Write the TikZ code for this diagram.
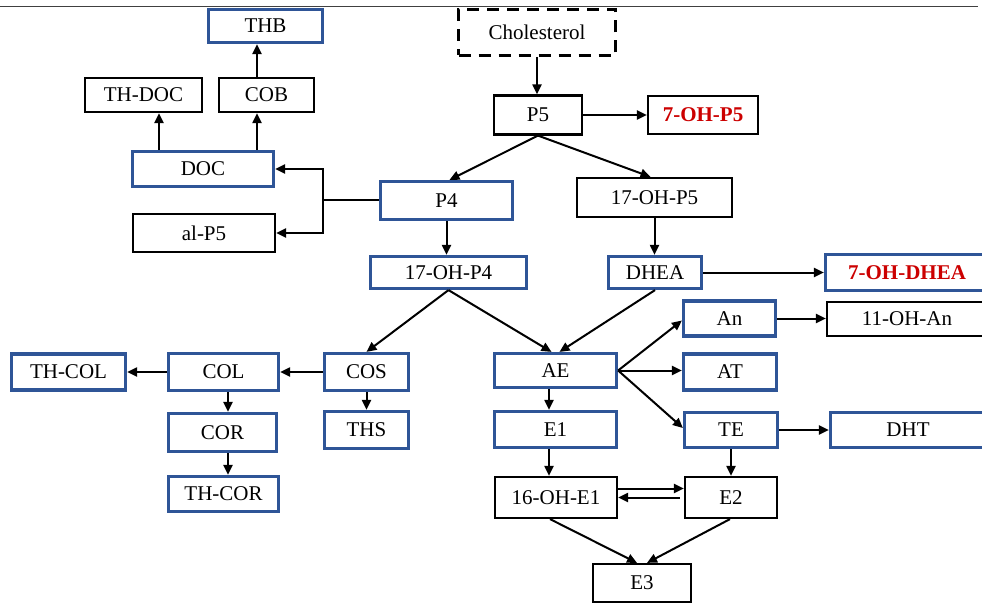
\documentclass[tikz,border=0pt]{standalone}
\usepackage{fontspec}
\setmainfont{Liberation Serif}
\usetikzlibrary{arrows.meta}
\definecolor{boxblue}{RGB}{47,85,151}
\definecolor{txtred}{RGB}{204,0,0}
\begin{document}
\begin{tikzpicture}[x=1pt,y=-1pt,
 base/.style={rectangle, inner sep=0pt, font=\fontsize{21}{25}\selectfont, fill=white},
 bbox/.style={base, draw=boxblue, line width=3.2pt},
 kbox/.style={base, draw=black, line width=2.2pt},
 dbox/.style={base, draw=black, line width=2.8pt, dash pattern=on 12pt off 8pt},
 redtxt/.style={text=txtred, font=\fontsize{21}{25}\selectfont\bfseries},
 arr/.style={-{Triangle[length=10pt,width=9pt]}, line width=2pt},
 ln/.style={line width=2pt}]
\useasboundingbox (0,0) rectangle (982,604);
\clip (0,0) rectangle (982,604);
\draw[line width=1.3pt, black!75] (0,6.5) -- (978,6.5);

\node[bbox, minimum width=114pt, minimum height=33pt] (THB) at (265.5,26) {THB};
\node[kbox, minimum width=117pt, minimum height=34pt] (THDOC) at (143.5,95) {TH-DOC};
\node[kbox, minimum width=95pt, minimum height=34pt] (COB) at (266.5,95) {COB};
\node[bbox, minimum width=141pt, minimum height=35pt] (DOC) at (203,169) {DOC};
\node[kbox, minimum width=142pt, minimum height=38pt] (alP5) at (204,233) {al-P5};
\node[dbox, minimum width=157pt, minimum height=46pt] (CHOL) at (537,32.5) {Cholesterol};
\node[kbox, minimum width=88pt, minimum height=39pt] (P5) at (538,115) {P5};
\node[kbox, redtxt, minimum width=110pt, minimum height=38pt] (OHP5) at (703,115) {7-OH-P5};
\node[bbox, minimum width=132pt, minimum height=38pt] (P4) at (446.5,200.5) {P4};
\node[kbox, minimum width=155pt, minimum height=39pt] (OHP5b) at (654.5,197.5) {17-OH-P5};
\node[bbox, minimum width=156pt, minimum height=32pt] (OHP4) at (448.5,272.5) {17-OH-P4};
\node[bbox, minimum width=93pt, minimum height=32pt] (DHEA) at (655,272.5) {DHEA};
\node[bbox, redtxt, minimum width=163pt, minimum height=36pt] (OHDHEA) at (907,272.5) {7-OH-DHEA};
\node[bbox, minimum width=114pt, minimum height=36pt] (THCOL) at (68.5,372) {TH-COL};
\node[bbox, minimum width=110pt, minimum height=37pt] (COL) at (223.5,372) {COL};
\node[bbox, minimum width=84pt, minimum height=37pt] (COS) at (366.5,372) {COS};
\node[bbox, minimum width=108pt, minimum height=38pt] (COR) at (222.5,432.5) {COR};
\node[bbox, minimum width=84pt, minimum height=37pt] (THS) at (366.5,430) {THS};
\node[bbox, minimum width=110pt, minimum height=35pt] (THCOR) at (223.5,494) {TH-COR};
\node[bbox, minimum width=122pt, minimum height=34pt] (AE) at (555.5,370.5) {AE};
\node[bbox, minimum width=92pt, minimum height=35pt] (An) at (729.5,318.5) {An};
\node[kbox, minimum width=160pt, minimum height=34pt] (OHAn) at (907,319) {11-OH-An};
\node[bbox, minimum width=93pt, minimum height=36pt] (AT) at (730,372) {AT};
\node[bbox, minimum width=93pt, minimum height=35pt] (TE) at (731,430) {TE};
\node[bbox, minimum width=155pt, minimum height=35pt] (DHT) at (908,430) {DHT};
\node[bbox, minimum width=122pt, minimum height=36pt] (E1) at (555.5,429.5) {E1};
\node[kbox, minimum width=122pt, minimum height=41pt] (OHE1) at (556,497.5) {16-OH-E1};
\node[kbox, minimum width=92pt, minimum height=41pt] (E2) at (731,497.5) {E2};
\node[kbox, minimum width=98pt, minimum height=38pt] (E3) at (642,583) {E3};

\coordinate (x159) at (159,0);
\coordinate (x257) at (257,0);
\coordinate (x228) at (228,0);
\coordinate (x549) at (549,0);
\coordinate (br) at (323,200.5);

\draw[arr] (CHOL.south) -- (CHOL.south |- P5.north);
\draw[arr] (P5.east) -- (P5.east -| OHP5.west);
\draw[arr] (P5.south) -- ([xshift=3pt]P4.north);
\draw[arr] (P5.south) -- ([xshift=-4pt]OHP5b.north);
\draw[arr] (P4.south) -- (P4.south |- OHP4.north);
\draw[arr] (OHP5b.south) -- (OHP5b.south |- DHEA.north);
\draw[arr] (DHEA.east) -- (DHEA.east -| OHDHEA.west);
\draw[ln] (P4.west) -- (br);
\draw[arr] (br) |- (DOC.east);
\draw[arr] (br) |- (alP5.east);
\draw[arr] (DOC.north -| x159) -- (THDOC.south -| x159);
\draw[arr] (DOC.north -| x257) -- (COB.south -| x257);
\draw[arr] (COB.north -| x257) -- (THB.south -| x257);
\draw[arr] (OHP4.south) -- (COS.north);
\draw[arr] (OHP4.south) -- ([xshift=-4pt]AE.north);
\draw[arr] (DHEA.south) -- ([xshift=4pt]AE.north);
\draw[arr] (COS.west) -- (COS.west -| COL.east);
\draw[arr] (COL.west) -- (COL.west -| THCOL.east);
\draw[arr] (COL.south -| x228) -- (COR.north -| x228);
\draw[arr] (COR.south -| x228) -- (THCOR.north -| x228);
\draw[arr] (COS.south) -- (THS.north);
\draw[arr] (AE.east) -- ([yshift=-2pt]An.west);
\draw[arr] (AE.east) -- (AE.east -| AT.west);
\draw[arr] (AE.east) -- ([yshift=2pt]TE.west);
\draw[arr] (An.east) -- (An.east -| OHAn.west);
\draw[arr] (TE.east) -- (TE.east -| DHT.west);
\draw[arr] (AE.south -| x549) -- (E1.north -| x549);
\draw[arr] (E1.south -| x549) -- (OHE1.north -| x549);
\draw[arr] (TE.south) -- (E2.north);
\draw[arr] ([yshift=9pt]OHE1.east) -- ([yshift=9pt]E2.west);
\draw[arr] ([xshift=-4pt]E2.west) -- (OHE1.east);
\draw[arr] ([xshift=-6pt]OHE1.south) -- ([xshift=-5pt]E3.north);
\draw[arr] ([xshift=-1pt]E2.south) -- ([xshift=5pt]E3.north);
\end{tikzpicture}
\end{document}
